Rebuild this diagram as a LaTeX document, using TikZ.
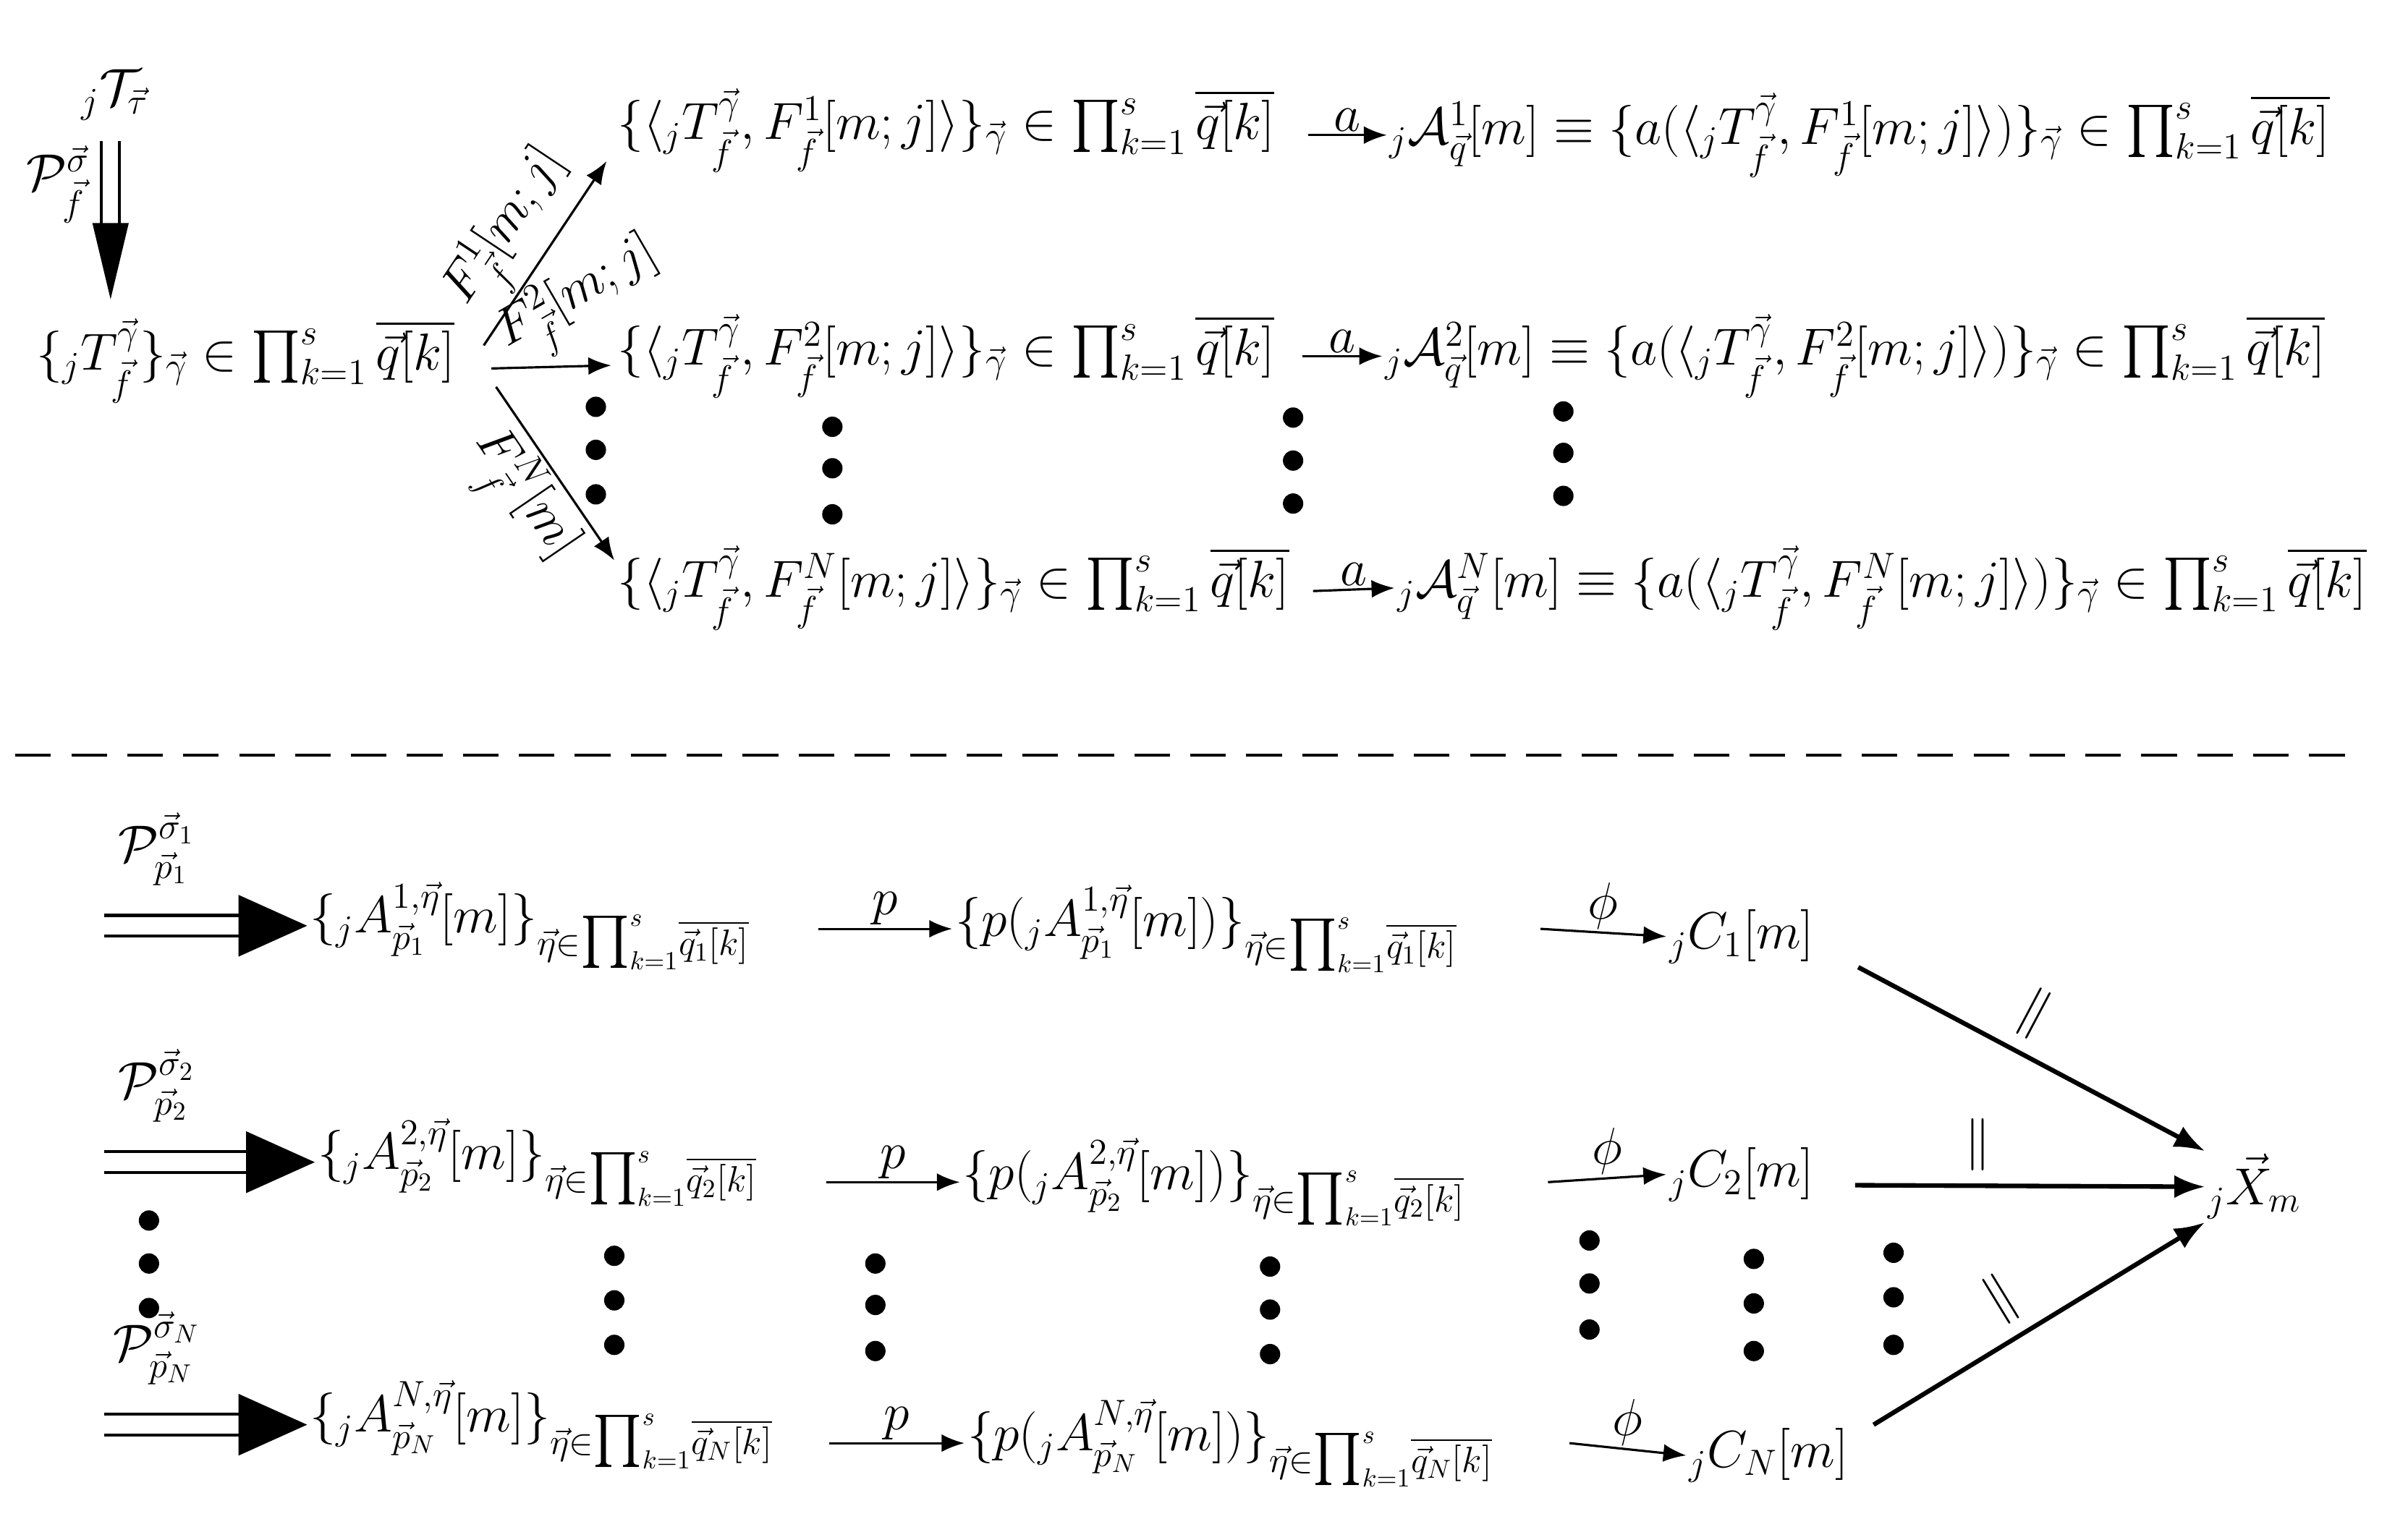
\RequirePackage{fix-cm}
\documentclass[tikz,border=0pt]{standalone}
\usepackage{amsmath,amssymb}
\usetikzlibrary{arrows.meta}
\tikzset{
  t/.style={inner sep=1pt,font=\fontsize{20.5}{24}\selectfont},
  ar/.style={-{Latex[length=9pt,width=7pt]},line width=0.9pt},
  bar/.style={-{Latex[length=12pt,width=9pt]},line width=1.8pt},
  dbl/.style={double distance=7pt,line width=1.2pt,-{Triangle[length=27pt,width=24pt]}},
  dt/.style={circle,fill,inner sep=0pt,minimum size=8pt}
}
\begin{document}
\begin{tikzpicture}[x=0.02122cm,y=-0.02122cm]
\useasboundingbox (0,0) rectangle (1568,989);
% top part
\node[t] (tau) at (75,62) {${}_j\mathcal{T}_{\vec\tau}$};
\node[t] (L) at (160,235) {$\{{}_jT^{\vec\gamma}_{\vec f}\}_{\vec\gamma}\in\prod_{k=1}^s\overline{\vec q[k]}$};
\coordinate (ta) at (72,92); \coordinate (tb) at (72,195);
\draw[double distance=6pt,line width=1.1pt,-{Triangle[length=30pt,width=14pt]}] (ta) -- (tb);
\node[t] at (38,120) {$\mathcal{P}^{\vec\sigma}_{\vec f}$};
\foreach \i/\y in {1/85,2/232,N/383}{
  \node[t,anchor=west] (R\i) at (400,\y) {$\{\langle{}_jT^{\vec\gamma}_{\vec f},F^{\i}_{\vec f}[m;j]\rangle\}_{\vec\gamma}\in\prod_{k=1}^s\overline{\vec q[k]}$};
}
\node[t,anchor=west] (S1) at (903,88) {${}_j\mathcal{A}^1_{\vec q}[m]\equiv\{a(\langle{}_jT^{\vec\gamma}_{\vec f},F^1_{\vec f}[m;j]\rangle)\}_{\vec\gamma}\in\prod_{k=1}^s\overline{\vec q[k]}$};
\node[t,anchor=west] (S2) at (900,232) {${}_j\mathcal{A}^2_{\vec q}[m]\equiv\{a(\langle{}_jT^{\vec\gamma}_{\vec f},F^2_{\vec f}[m;j]\rangle)\}_{\vec\gamma}\in\prod_{k=1}^s\overline{\vec q[k]}$};
\node[t,anchor=west] (SN) at (908,383) {${}_j\mathcal{A}^N_{\vec q}[m]\equiv\{a(\langle{}_jT^{\vec\gamma}_{\vec f},F^N_{\vec f}[m;j]\rangle)\}_{\vec\gamma}\in\prod_{k=1}^s\overline{\vec q[k]}$};
\draw[ar] (852,88) -- node[t,above]{$a$} (S1.west);
\draw[ar] (848,232) -- node[t,above]{$a$} (S2.west);
\draw[ar] (855,385) -- node[t,above]{$a$} (SN.west);
\draw[ar] (315,225) -- node[t,sloped,above]{$F^1_{\vec f}[m;j]$} (395,105);
\draw[ar] (320,240) -- (398,238);
\node[t,rotate=30] at (378,195) {$F^2_{\vec f}[m;j]$};
\draw[ar] (323,252) -- node[t,sloped,below]{$F^N_{\vec f}[m]$} (400,365);
\foreach \x/\a/\b/\c in {388/265/293/322,542/278/305/335,842/272/300/328,1018/268/295/323,
  97/795/823/852,400/818/847/876,570/823/850/880,827/825/853/882,1035/808/836/866,1142/820/849/880,1233/816/845/876}{
  \node[dt] at (\x,\a) {}; \node[dt] at (\x,\b) {}; \node[dt] at (\x,\c) {};
}
\draw[line width=1.2pt,dash pattern=on 14pt off 8pt] (10,492) -- (1530,492);
% bottom part
\node[t] (X) at (1468,773) {${}_j\vec X_m$};
\foreach \i/\s/\y/\xa/\xp/\xq/\xc/\yc/\yp/\pa in {1/1/603/200/620/1003/1085/610/605/533,2/2/757/205/625/1008/1085/765/770/538,N/N/928/200/628/1022/1098/948/940/540}{
  \node[t] at (102,\y-50) {$\mathcal{P}^{\vec\sigma_{\s}}_{\vec p_{\s}}$};
  \coordinate (s\i) at (68,\y);
  \node[t,anchor=west] (A\i) at (\xa,\y) {$\{{}_jA^{\s,\vec\eta}_{\vec p_{\s}}[m]\}_{\vec\eta\in{\textstyle\prod}_{k=1}^s\overline{\vec q_{\s}[k]}}$};
  \draw[dbl] (s\i) -- (A\i.west);
  \node[t,anchor=west] (P\i) at (\xp,\yp) {$\{p({}_jA^{\s,\vec\eta}_{\vec p_{\s}}[m])\}_{\vec\eta\in{\textstyle\prod}_{k=1}^s\overline{\vec q_{\s}[k]}}$};
  \draw[ar] (\pa,\yp) -- node[t,above]{$p$} (P\i.west);
  \node[t,anchor=west] (C\i) at (\xc,\yc) {${}_jC_{\s}[m]$};
  \draw[ar] (\xq,\yp) -- node[t,above]{$\phi$} (C\i.west);
}
\draw[bar] (1210,630) -- node[t,sloped,above=4pt,pos=0.45]{$\parallel$} (X.north west);
\draw[bar] (1208,772) -- node[t,above=4pt,pos=0.35]{$\parallel$} (X.west);
\draw[bar] (1220,928) -- node[t,sloped,above=4pt,pos=0.45]{$\parallel$} (X.south west);
\end{tikzpicture}
\end{document}
